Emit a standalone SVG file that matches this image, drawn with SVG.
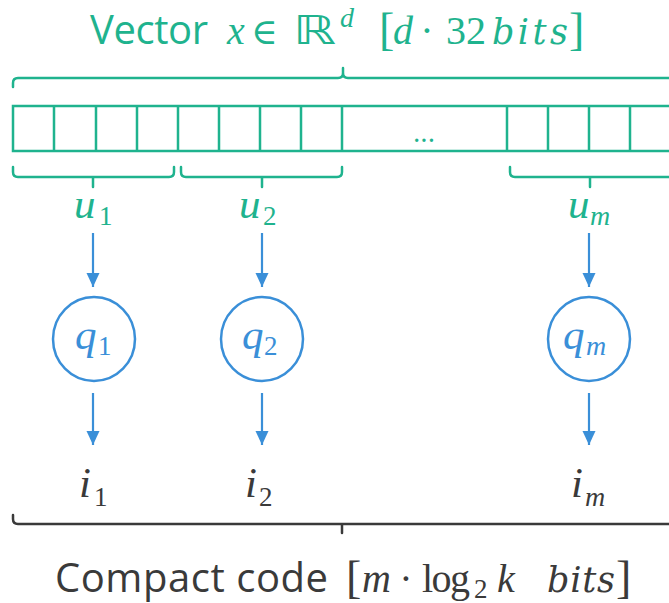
<svg xmlns="http://www.w3.org/2000/svg" width="669" height="603" viewBox="0 0 669 603">
  <style>
    .teal { fill: #1fb38e; }
    .blue { fill: #3a8fd8; }
    .dark { fill: #3a3a3a; }
    .sans { font-family: "Open Sans", "Noto Sans", sans-serif; font-size: 40px; }
    .m { font-family: "Liberation Serif", "DejaVu Serif", serif; font-style: italic; font-size: 40px; }
    .word { font-family: "DejaVu Serif", "Liberation Serif", serif; font-style: italic; font-size: 35px; }
    .big { font-family: "Liberation Serif", "DejaVu Serif", serif; font-style: italic; font-size: 43px; }
    .up { font-family: "Liberation Serif", "DejaVu Serif", serif; font-size: 40px; }
    .sub { font-family: "Liberation Serif", "DejaVu Serif", serif; font-size: 27px; }
    .subi { font-family: "Liberation Serif", "DejaVu Serif", serif; font-style: italic; font-size: 28px; }
    .br { font-family: "Liberation Serif", "DejaVu Serif", serif; font-size: 46px; }
    .sym { font-family: "DejaVu Serif", serif; font-size: 36px; }
    .brace-t { fill: none; stroke: #1fb38e; stroke-width: 2.5; stroke-linecap: round; stroke-linejoin: round; }
    .brace-d { fill: none; stroke: #3a3a3a; stroke-width: 2.5; stroke-linecap: round; stroke-linejoin: round; }
    .cell { fill: none; stroke: #1fb38e; stroke-width: 2.5; }
    .arrow { fill: none; stroke: #3a8fd8; stroke-width: 2.2; marker-end: url(#head); }
    .quant { fill: none; stroke: #3a8fd8; stroke-width: 2.5; }
  </style>
  <defs>
    <marker id="head" markerUnits="userSpaceOnUse" markerWidth="14" markerHeight="14" viewBox="0 0 14 14" refX="14" refY="7" orient="auto">
      <path d="M0,0.5 L14,7 L0,13.5 z" fill="#3a8fd8"/>
    </marker>
  </defs>

  <!-- title -->
  <g id="title">
    <text class="sans teal" x="90" y="44" textLength="118" lengthAdjust="spacing">Vector</text>
    <text class="m teal" x="227" y="44">x</text>
    <text class="sym teal" x="251" y="44">∈</text>
    <text class="teal" x="293" y="44" style="font-family:'DejaVu Sans',sans-serif;font-size:40px" textLength="43" lengthAdjust="spacingAndGlyphs">ℝ</text>
    <text class="teal" x="340" y="27" style="font-family:'Liberation Serif',serif;font-style:italic;font-size:28px">d</text>
    <text class="br teal" x="379" y="45">[</text>
    <text class="m teal" x="393" y="44">d</text>
    <text class="up teal" x="427" y="44" text-anchor="middle">·</text>
    <text class="up teal" x="446" y="44">32</text>
    <text class="word teal" x="492" y="44" textLength="76" lengthAdjust="spacing">bits</text>
    <text class="br teal" x="569" y="45">]</text>
  </g>

  <!-- vector cells -->
  <g id="vector">
    <rect class="cell" x="13" y="106" width="664" height="45"/>
    <path class="cell" d="M54,106V151 M96,106V151 M137,106V151 M178,106V151 M219,106V151 M260,106V151 M301,106V151 M342,106V151 M507,106V151 M548,106V151 M589,106V151 M630,106V151"/>
    <text class="teal" x="424" y="142" text-anchor="middle" style="font-family:'Open Sans',sans-serif;font-size:28px">...</text>
  </g>

  <!-- braces -->
  <g id="braces">
    <path class="brace-t" d="M13,87 V83 Q13,78 18,78 H338 Q343,78 343,73 V68 M343,73 Q343,78 348,78 H680"/>
    <path class="brace-t" d="M13,167 V172 Q13,177 18,177 H169 Q174,177 174,172 V167 M93,177 V187"/>
    <path class="brace-t" d="M181,167 V172 Q181,177 186,177 H337 Q342,177 342,172 V167 M262,177 V187"/>
    <path class="brace-t" d="M510,167 V172 Q510,177 515,177 H680 M590,177 V187"/>
    <path class="brace-d" d="M13,515 V519 Q13,524 18,524 H680 M342,524 V533"/>
  </g>

  <!-- sub-vectors -->
  <g id="u1"><text class="big teal" x="74" y="218">u</text><text class="sub teal" x="99" y="225">1</text></g>
  <g id="u2"><text class="big teal" x="239" y="218">u</text><text class="sub teal" x="263" y="225">2</text></g>
  <g id="um"><text class="big teal" x="568" y="218">u</text><text class="subi teal" x="590" y="225">m</text></g>

  <!-- quantizers -->
  <g id="q1">
    <ellipse class="quant" cx="94" cy="339" rx="41" ry="42"/>
    <text class="big blue" x="75" y="349">q</text><text class="sub blue" x="98" y="355">1</text>
  </g>
  <g id="q2">
    <ellipse class="quant" cx="262" cy="339" rx="41" ry="42"/>
    <text class="big blue" x="242" y="349">q</text><text class="sub blue" x="264" y="355">2</text>
  </g>
  <g id="qm">
    <ellipse class="quant" cx="589" cy="339" rx="41" ry="42"/>
    <text class="big blue" x="563" y="349">q</text><text class="subi blue" x="586" y="355">m</text>
  </g>

  <!-- codes -->
  <g id="i1"><text class="big dark" x="79" y="497">i</text><text class="sub dark" x="94" y="506">1</text></g>
  <g id="i2"><text class="big dark" x="245" y="497">i</text><text class="sub dark" x="259" y="506">2</text></g>
  <g id="im"><text class="big dark" x="571" y="497">i</text><text class="subi dark" x="585" y="506">m</text></g>

  <!-- connectors -->
  <g id="connectors">
    <line class="arrow" x1="93" y1="233" x2="93" y2="287"/>
    <line class="arrow" x1="262" y1="233" x2="262" y2="287"/>
    <line class="arrow" x1="589" y1="233" x2="589" y2="287"/>
    <line class="arrow" x1="93" y1="393" x2="93" y2="445"/>
    <line class="arrow" x1="262" y1="393" x2="262" y2="445"/>
    <line class="arrow" x1="589" y1="393" x2="589" y2="445"/>
  </g>

  <!-- caption -->
  <g id="caption">
    <text class="sans dark" x="55" y="592" textLength="273" lengthAdjust="spacing">Compact code</text>
    <text class="br dark" x="346" y="593">[</text>
    <text class="m dark" x="362" y="592">m</text>
    <text class="up dark" x="406" y="592" text-anchor="middle">·</text>
    <text class="up dark" x="422" y="592" textLength="48" lengthAdjust="spacing">log</text>
    <text class="sub dark" x="474" y="598">2</text>
    <text class="m dark" x="497" y="592">k</text>
    <text class="word dark" x="547" y="592" textLength="68" lengthAdjust="spacing">bits</text>
    <text class="br dark" x="616" y="593">]</text>
  </g>
</svg>
